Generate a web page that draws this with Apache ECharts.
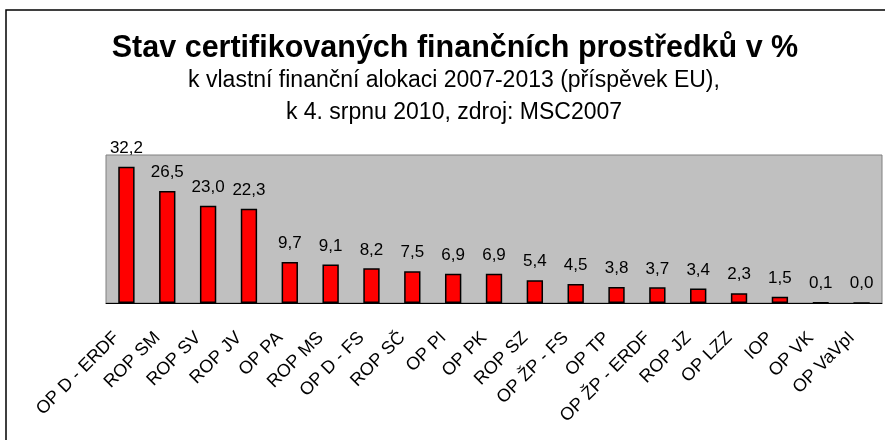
<!DOCTYPE html>
<html>
<head>
<meta charset="utf-8">
<script src="https://cdn.jsdelivr.net/npm/echarts@6/dist/echarts.min.js"></script>
<style>
  html, body { margin: 0; padding: 0; background: #fff; }
  #chart { width: 885px; height: 440px; }
</style>
</head>
<body>
<div id="chart"></div>
<script>
var categories = ['OP D - ERDF', 'ROP SM', 'ROP SV', 'ROP JV', 'OP PA', 'ROP MS', 'OP D - FS', 'ROP SČ',
    'OP PI', 'OP PK', 'ROP SZ', 'OP ŽP - FS', 'OP TP', 'OP ŽP - ERDF', 'ROP JZ', 'OP LZZ', 'IOP', 'OP VK', 'OP VaVpI'];
var certified = [32.2, 26.5, 23.0, 22.3, 9.7, 9.1, 8.2, 7.5, 6.9, 6.9, 5.4, 4.5, 3.8, 3.7, 3.4, 2.3, 1.5, 0.1, 0.0];

var chart = echarts.init(document.getElementById('chart'));

var option = {
    animation: false,
    textStyle: { fontFamily: 'Liberation Sans, Arial, sans-serif', color: '#000' },
    title: [
        {
            text: 'Stav certifikovaných finančních prostředků v %',
            left: 450, top: 28, textAlign: 'center',
            textStyle: { fontSize: 30.5, fontWeight: 'bold', color: '#000', fontFamily: 'Liberation Sans' }
        },
        {
            text: 'k vlastní finanční alokaci 2007-2013 (příspěvek EU),\nk 4. srpnu 2010, zdroj: MSC2007',
            left: 449, top: 60, textAlign: 'center',
            textStyle: { fontSize: 23, fontWeight: 'normal', color: '#000', lineHeight: 32, fontFamily: 'Liberation Sans' }
        }
    ],
    graphic: [{
        type: 'rect',
        shape: { x: 6, y: 10, width: 900, height: 500 },
        style: { fill: 'none', stroke: '#000', lineWidth: 1.5 },
        silent: true
    }],
    grid: {
        left: 106, right: 3, top: 155, bottom: 137,
        show: true, backgroundColor: '#c0c0c0', borderColor: '#808080', borderWidth: 1
    },
    xAxis: {
        type: 'category',
        data: categories,
        axisLine: { lineStyle: { color: '#000', width: 1 } },
        axisTick: { length: 6, lineStyle: { color: '#000' } },
        axisLabel: { rotate: 45, interval: 0, fontSize: 18, color: '#000', margin: 22, padding: [0, 14, 0, 0] }
    },
    yAxis: {
        type: 'value', min: 0, max: 35,
        show: false, splitLine: { show: false }
    },
    series: [{
        type: 'bar',
        data: certified,
        barWidth: '40%',
        itemStyle: { color: '#ff0000', borderColor: '#000', borderWidth: 1.5 },
        label: {
            show: true, position: 'top', distance: 10,
            fontSize: 17, color: '#000',
            formatter: function (p) { return p.value.toFixed(1).replace('.', ','); }
        }
    }]
};

chart.setOption(option);
</script>
</body>
</html>
